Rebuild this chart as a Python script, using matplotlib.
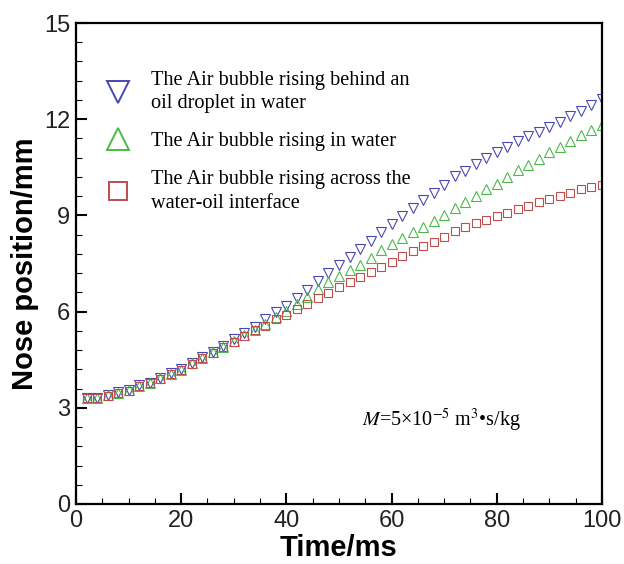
import numpy as np
import matplotlib
matplotlib.use('Agg')
import matplotlib.pyplot as plt
from matplotlib.ticker import MultipleLocator

plt.rcParams['mathtext.fontset'] = 'stix'

# --- nose position of the rising bubble ---
time_ms = np.arange(2, 101, 2)

behind_droplet = [3.32, 3.32, 3.40, 3.48, 3.55, 3.70, 3.78, 3.94, 4.07, 4.21,
                  4.41, 4.58, 4.75, 4.94, 5.13, 5.34, 5.53, 5.78, 5.99, 6.19,
                  6.43, 6.68, 6.94, 7.20, 7.44, 7.69, 7.94, 8.21, 8.49, 8.74,
                  8.97, 9.22, 9.48, 9.71, 9.95, 10.22, 10.40, 10.59, 10.78, 10.99,
                  11.12, 11.33, 11.48, 11.61, 11.76, 11.92, 12.10, 12.26, 12.43, 12.62]
in_water = [3.31, 3.31, 3.39, 3.47, 3.54, 3.68, 3.77, 3.92, 4.05, 4.19,
            4.39, 4.56, 4.73, 4.91, 5.09, 5.28, 5.44, 5.62, 5.84, 6.03,
            6.24, 6.46, 6.70, 6.92, 7.10, 7.30, 7.46, 7.67, 7.92, 8.10,
            8.28, 8.47, 8.64, 8.82, 9.02, 9.23, 9.43, 9.62, 9.83, 9.98,
            10.20, 10.41, 10.57, 10.75, 10.97, 11.14, 11.32, 11.51, 11.66, 11.81]
across_interface = [3.30, 3.30, 3.38, 3.46, 3.53, 3.67, 3.76, 3.91, 4.04, 4.18,
                    4.38, 4.54, 4.71, 4.89, 5.06, 5.25, 5.42, 5.54, 5.76, 5.90,
                    6.08, 6.24, 6.41, 6.57, 6.77, 6.93, 7.09, 7.24, 7.38, 7.56,
                    7.73, 7.89, 8.04, 8.18, 8.34, 8.50, 8.64, 8.76, 8.87, 8.99,
                    9.08, 9.21, 9.30, 9.41, 9.52, 9.60, 9.71, 9.81, 9.88, 9.95]

labels = ['The Air bubble rising behind an\noil droplet in water',
          'The Air bubble rising in water',
          'The Air bubble rising across the\nwater-oil interface']
colors = ['#4848b0', '#4cb84c', '#c04c4c']

fig = plt.figure(figsize=(6.24, 5.64), dpi=100)
ax = fig.add_axes([0.1218, 0.1064, 0.8429, 0.8528])

ax.plot(time_ms, behind_droplet, ls='none', marker='v', ms=7.2, mfc='none',
        mec=colors[0], mew=0.8, label=labels[0])
ax.plot(time_ms, in_water, ls='none', marker='^', ms=7.2, mfc='none',
        mec=colors[1], mew=0.8, label=labels[1])
ax.plot(time_ms, across_interface, ls='none', marker='s', ms=6.2, mfc='none',
        mec=colors[2], mew=0.8, label=labels[2])

ax.set_xlim(0, 100)
ax.set_ylim(0, 15)
ax.xaxis.set_major_locator(MultipleLocator(20))
ax.xaxis.set_minor_locator(MultipleLocator(5))
ax.yaxis.set_major_locator(MultipleLocator(3))
ax.yaxis.set_minor_locator(MultipleLocator(0.6))
ax.tick_params(which='both', direction='in', top=False, right=False,
               labelsize=17, labelcolor='#222222')
ax.tick_params(which='major', length=8, width=1.5, pad=4)
ax.tick_params(which='minor', length=4.5, width=0.8)
for sp in ax.spines.values():
    sp.set_linewidth(1.6)

for lab in ax.get_xticklabels() + ax.get_yticklabels():
    lab.set_fontfamily('Liberation Sans')

ax.set_xlabel('Time/ms', fontsize=21, fontweight='bold',
              fontfamily='Liberation Sans', labelpad=2)
ax.set_ylabel('Nose position/mm', fontsize=21, fontweight='bold',
              fontfamily='Liberation Sans', labelpad=4)

leg = ax.legend(loc='upper left', bbox_to_anchor=(0.045, 0.918), frameon=False,
                prop={'family': 'Liberation Serif', 'size': 14.6},
                handlelength=1.0, handletextpad=1.15, labelspacing=0.95,
                borderaxespad=0)
for h, ms in zip(leg.legend_handles, [16.5, 16.5, 12.5]):
    h.set_markersize(ms)
    h.set_markeredgewidth(1.4)
for t in leg.get_texts():
    t.set_linespacing(1.3)

ax.text(69.5, 2.62, r'$M$=5×10$^{-5}$ m$^{3}$•s/kg', ha='center', va='center',
        fontsize=14.5, fontfamily='Liberation Serif')

fig.savefig('out.png', dpi=100)
